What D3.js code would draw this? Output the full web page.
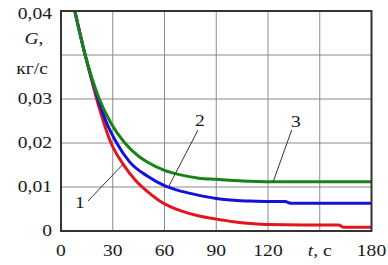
<!DOCTYPE html>
<html><head><meta charset="utf-8">
<script src="https://cdn.jsdelivr.net/npm/d3@7"></script>
<style>html,body{margin:0;padding:0;background:#fff;}svg{display:block;}</style>
</head><body>
<svg id="c" width="388" height="265"></svg>
<script>
// Data. y scale top corresponds to label "0,04" (axis max).
const xTicks = [0, 30, 60, 90, 120, 150, 180];
const xTickLabels = ["0", "30", "60", "90", "120", "t, c", "180"];
const yGrid = [0.01, 0.02, 0.03, 0.04];
const yTicks = [0, 0.01, 0.02, 0.03, 0.05];
const yTickLabels = ["0", "0,01", "0,02", "0,03", "0,04"];
const yMax = 0.05;

const tRed   = [8, 14, 20.7, 29, 36, 43, 50, 57, 63, 70, 80, 90, 100, 110, 120, 140, 161, 164, 180];
const gRed   = [0.05, 0.04, 0.03, 0.02, 0.0152, 0.0116, 0.0090, 0.0069, 0.0056, 0.0045, 0.0034, 0.0027, 0.0021, 0.0017, 0.00145, 0.00136, 0.00136, 0.00084, 0.00084];
const tBlue  = [8, 14, 21.5, 26, 32.3, 40, 50, 60, 70, 80, 90, 100, 110, 120, 130, 133, 180];
const gBlue  = [0.05, 0.04, 0.03, 0.025, 0.02, 0.0156, 0.0125, 0.0103, 0.0090, 0.0081, 0.0074, 0.0070, 0.0068, 0.0067, 0.0067, 0.0063, 0.0063];
const tGreen = [8, 14, 22.2, 29, 37, 45, 50, 60, 70, 80, 90, 100, 110, 120, 180];
const gGreen = [0.05, 0.04, 0.03, 0.0245, 0.02, 0.0170, 0.0157, 0.0138, 0.0127, 0.0120, 0.01175, 0.0115, 0.0113, 0.0112, 0.0112];

const seriesNames = ["1", "2", "3"];

const svg = d3.select("#c");
const L = 61, R = 371.5, T = 11, B = 231;
const x = d3.scaleLinear().domain([0, 180]).range([L, R]);
const y = d3.scaleLinear().domain([0, yMax]).range([B, T]);
const SX = 1.15, FS = 17;
const FONT = '"Liberation Serif"';

// grid
svg.append("g").selectAll("line.v").data(xTicks.slice(1, -1)).join("line")
  .attr("x1", d => x(d)).attr("x2", d => x(d)).attr("y1", T).attr("y2", B)
  .attr("stroke", "#8a8a8a").attr("stroke-width", 1);
svg.append("g").selectAll("line.h").data(yGrid).join("line")
  .attr("y1", d => y(d)).attr("y2", d => y(d)).attr("x1", L).attr("x2", R)
  .attr("stroke", "#8a8a8a").attr("stroke-width", 1);

// curves
svg.append("clipPath").attr("id", "clip").append("rect")
  .attr("x", L).attr("y", T).attr("width", R - L).attr("height", B - T);
const line = d3.line().x(d => x(d[0])).y(d => y(d[1])).curve(d3.curveMonotoneX);
const series = [
  {t: tRed, g: gRed, c: "#e3141e"},
  {t: tBlue, g: gBlue, c: "#1212d8"},
  {t: tGreen, g: gGreen, c: "#178317"}
];
const cg = svg.append("g").attr("clip-path", "url(#clip)");
series.forEach(s => {
  cg.append("path").datum(s.t.map((t, i) => [t, s.g[i]]))
    .attr("d", line).attr("fill", "none").attr("stroke", s.c)
    .attr("stroke-width", 3).attr("stroke-linejoin", "round");
});

// frame
svg.append("rect").attr("x", L).attr("y", T).attr("width", R - L).attr("height", B - T)
  .attr("fill", "none").attr("stroke", "#333").attr("stroke-width", 2);

function mk(xp, yp, anchor) {
  return svg.append("text")
    .attr("transform", `translate(${xp},${yp}) scale(${SX},1)`)
    .attr("text-anchor", anchor)
    .style("font-family", FONT).style("font-size", FS + "px")
    .attr("fill", "#1a1a1a");
}
function txt(xp, yp, s, anchor) { return mk(xp, yp, anchor).text(s); }

// y tick labels
yTicks.forEach((v, i) => {
  const yy = v === yMax ? 19 : y(v) + 5;
  txt(52, yy, yTickLabels[i], "end");
});
// axis title
const gt = mk(34, 44, "middle");
gt.append("tspan").style("font-style", "italic").text("G");
gt.append("tspan").text(",");
txt(32, 74, "кг/с", "middle");

// x tick labels
xTicks.forEach((v, i) => {
  if (xTickLabels[i] === "t, c") {
    const tt = mk(x(v), 256, "middle");
    tt.append("tspan").style("font-style", "italic").text("t");
    tt.append("tspan").text(", c");
  } else {
    txt(x(v), 256, xTickLabels[i], "middle");
  }
});

// curve labels with leader lines
const leaders = [
  {lx: 80, ly: 208, x1: 88, y1: 201, tt: 36, s: 0},
  {lx: 200, ly: 126, x1: 198, y1: 130, tt: 62.3, s: 1},
  {lx: 296, ly: 127, x1: 291.7, y1: 130, tt: 123, s: 2}
];
leaders.forEach(d => {
  const s = series[d.s];
  const interp = d3.scaleLinear().domain(s.t).range(s.g);
  svg.append("line").attr("x1", d.x1).attr("y1", d.y1)
    .attr("x2", x(d.tt)).attr("y2", y(interp(d.tt)))
    .attr("stroke", "#333").attr("stroke-width", 1);
  txt(d.lx, d.ly, seriesNames[d.s], "middle");
});
</script>
</body></html>
